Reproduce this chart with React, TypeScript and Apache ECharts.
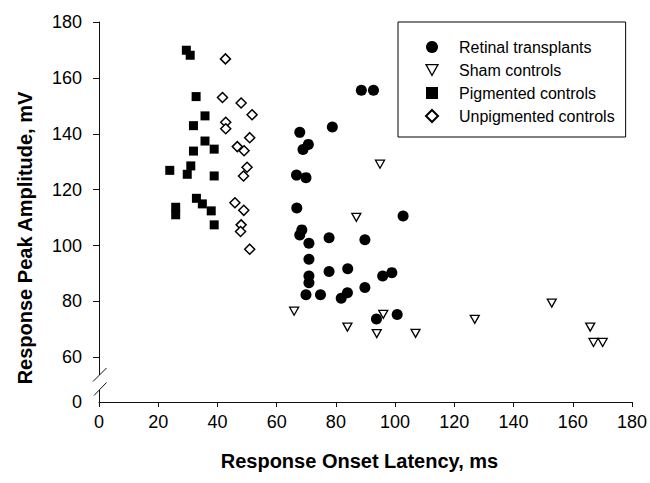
import React, { useEffect, useRef } from 'react';
import * as echarts from 'echarts';

// Axis ticks
const xTickValues = [0, 20, 40, 60, 80, 100, 120, 140, 160, 180];
// The y axis is broken between 0 and 60: the axis floor (shown as "0") sits at 44 on the drawn scale.
const yBreakFloor = 44;
const yTickValues = [yBreakFloor, 60, 80, 100, 120, 140, 160, 180];
const yTickLabels = ['0', '60', '80', '100', '120', '140', '160', '180'];

const seriesNames = ['Retinal transplants', 'Sham controls', 'Pigmented controls', 'Unpigmented controls'];

// [latency ms, amplitude mV]
const retinalTransplants: [number, number][] = [
  [88.6, 155.6], [92.7, 155.6], [78.8, 142.4], [67.8, 140.5], [70.7, 136.2], [68.9, 134.4],
  [66.7, 125.2], [69.9, 124.3], [66.8, 113.4], [102.7, 110.6], [68.5, 105.6], [67.8, 103.8],
  [70.9, 100.8], [77.7, 102.8], [89.8, 102.1], [70.9, 95.1], [77.7, 90.7], [84.0, 91.7],
  [70.9, 89.1], [70.9, 86.7], [95.8, 89.1], [98.9, 90.3], [89.8, 85.0], [69.9, 82.4],
  [74.8, 82.4], [83.9, 83.1], [81.8, 81.1], [100.7, 75.3], [93.7, 73.7],
];

const shamControls: [number, number][] = [
  [94.9, 129.1], [86.9, 110.1], [65.9, 76.5], [96.0, 75.4], [83.9, 70.8], [93.8, 68.5],
  [106.9, 68.6], [126.9, 73.6], [152.9, 79.4], [165.9, 70.8], [167.0, 65.3], [170.1, 65.3],
];

const pigmentedControls: [number, number][] = [
  [29.5, 169.9], [30.8, 168.1], [32.8, 153.3], [35.8, 146.4], [31.9, 142.9], [35.8, 137.4],
  [38.9, 134.5], [31.9, 133.8], [31.0, 128.5], [23.9, 126.9], [29.8, 125.5], [38.9, 124.9],
  [32.9, 116.9], [34.9, 114.9], [25.9, 113.7], [25.9, 111.0], [37.9, 112.4], [38.9, 107.4],
];

const unpigmentedControls: [number, number][] = [
  [42.7, 166.8], [41.7, 153.0], [48.0, 151.0], [51.7, 146.8], [42.8, 144.1], [42.8, 141.8],
  [50.9, 138.6], [46.7, 135.4], [49.0, 133.9], [50.0, 128.0], [48.8, 124.9], [45.9, 115.3],
  [48.9, 112.6], [48.0, 107.4], [47.8, 105.0], [50.9, 98.7],
];

const FONT = "Arial, 'Liberation Sans', Helvetica, sans-serif";
const GRID_LEFT = 99;
const GRID_TOP = 22;
const GRID_RIGHT = 17;
const GRID_BOTTOM = 81;
const DOWN_TRIANGLE = 'path://M0,0L10,0L5,9Z';

export default function App() {
  const ref = useRef<HTMLDivElement>(null);

  useEffect(() => {
    document.body.style.margin = '0';
    if (!ref.current) return;
    const chart = echarts.init(ref.current, null, { renderer: 'svg' });
    const axisBottom = 483 - GRID_BOTTOM;

    const option: any = {
      animation: false,
      backgroundColor: '#fff',
      grid: { left: GRID_LEFT, top: GRID_TOP, right: GRID_RIGHT, bottom: GRID_BOTTOM },
      legend: {
        orient: 'vertical',
        left: 398,
        top: 22,
        padding: [17, 11, 13, 27],
        borderColor: '#000',
        borderWidth: 1,
        backgroundColor: '#fff',
        itemWidth: 12,
        itemHeight: 12,
        itemGap: 7,
        textStyle: {
          fontSize: 16, fontFamily: FONT, color: '#000', lineHeight: 15,
          padding: [0, 0, 0, 16],
        },
        data: [
          { name: seriesNames[0] },
          { name: seriesNames[1], icon: DOWN_TRIANGLE, itemStyle: { borderWidth: 1.3 } },
          { name: seriesNames[2] },
          { name: seriesNames[3] },
        ],
      },
      xAxis: {
        type: 'value',
        min: 0,
        max: 180,
        interval: 20,
        name: 'Response Onset Latency, ms',
        nameLocation: 'middle',
        nameGap: 49,
        nameTextStyle: {
          fontSize: 20, fontWeight: 'bold', fontFamily: FONT, color: '#000',
          padding: [0, 12, 0, 0],
        },
        axisLine: { show: true, onZero: false, lineStyle: { color: '#111', width: 1 } },
        axisTick: { show: true, inside: false, length: 5, lineStyle: { color: '#111' }, customValues: xTickValues },
        axisLabel: { fontSize: 18, fontFamily: FONT, color: '#000', margin: 11, customValues: xTickValues },
        splitLine: { show: false },
      },
      yAxis: {
        type: 'value',
        min: yBreakFloor,
        max: 180,
        name: 'Response Peak Amplitude, mV',
        nameLocation: 'middle',
        nameGap: 64,
        nameTextStyle: {
          fontSize: 20, fontWeight: 'bold', fontFamily: FONT, color: '#000',
          padding: [0, 52, 0, 0],
        },
        axisLine: { show: true, onZero: false, lineStyle: { color: '#111', width: 1 } },
        axisTick: { show: true, inside: false, length: 6, lineStyle: { color: '#111' }, customValues: yTickValues.slice(1) },
        axisLabel: {
          fontSize: 18, fontFamily: FONT, color: '#000', margin: 17,
          customValues: yTickValues,
          formatter: (v: number) => {
            const i = yTickValues.findIndex((t) => Math.abs(t - v) < 1e-6);
            return i >= 0 ? yTickLabels[i] : '';
          },
        },
        splitLine: { show: false },
      },
      series: [
        {
          name: seriesNames[0], type: 'scatter', data: retinalTransplants,
          symbol: 'circle', symbolSize: 11,
          itemStyle: { color: '#000', opacity: 1 },
        },
        {
          name: seriesNames[1], type: 'scatter', data: shamControls,
          symbol: 'triangle', symbolSize: [9, 8], symbolRotate: 180,
          itemStyle: { color: '#fff', borderColor: '#000', borderWidth: 1.3, opacity: 1 },
        },
        {
          name: seriesNames[2], type: 'scatter', data: pigmentedControls,
          symbol: 'rect', symbolSize: 9,
          itemStyle: { color: '#000', opacity: 1 },
        },
        {
          name: seriesNames[3], type: 'scatter', data: unpigmentedControls,
          symbol: 'diamond', symbolSize: 10,
          itemStyle: { color: '#fff', borderColor: '#000', borderWidth: 1.5, opacity: 1 },
        },
      ],
      graphic: [
        {
          type: 'rect', z: 100,
          shape: { x: GRID_LEFT - 3, y: axisBottom - 27, width: 7, height: 15 },
          style: { fill: '#fff' },
        },
        {
          type: 'line', z: 101,
          shape: { x1: GRID_LEFT - 6, y1: axisBottom - 20.5, x2: GRID_LEFT + 7.5, y2: axisBottom - 34 },
          style: { stroke: '#111', lineWidth: 1 },
        },
        {
          type: 'line', z: 101,
          shape: { x1: GRID_LEFT - 5, y1: axisBottom - 6.5, x2: GRID_LEFT + 7.5, y2: axisBottom - 19.5 },
          style: { stroke: '#111', lineWidth: 1 },
        },
      ],
    };

    chart.setOption(option);
    return () => chart.dispose();
  }, []);

  return <div ref={ref} style={{ width: 650, height: 483 }} />;
}
